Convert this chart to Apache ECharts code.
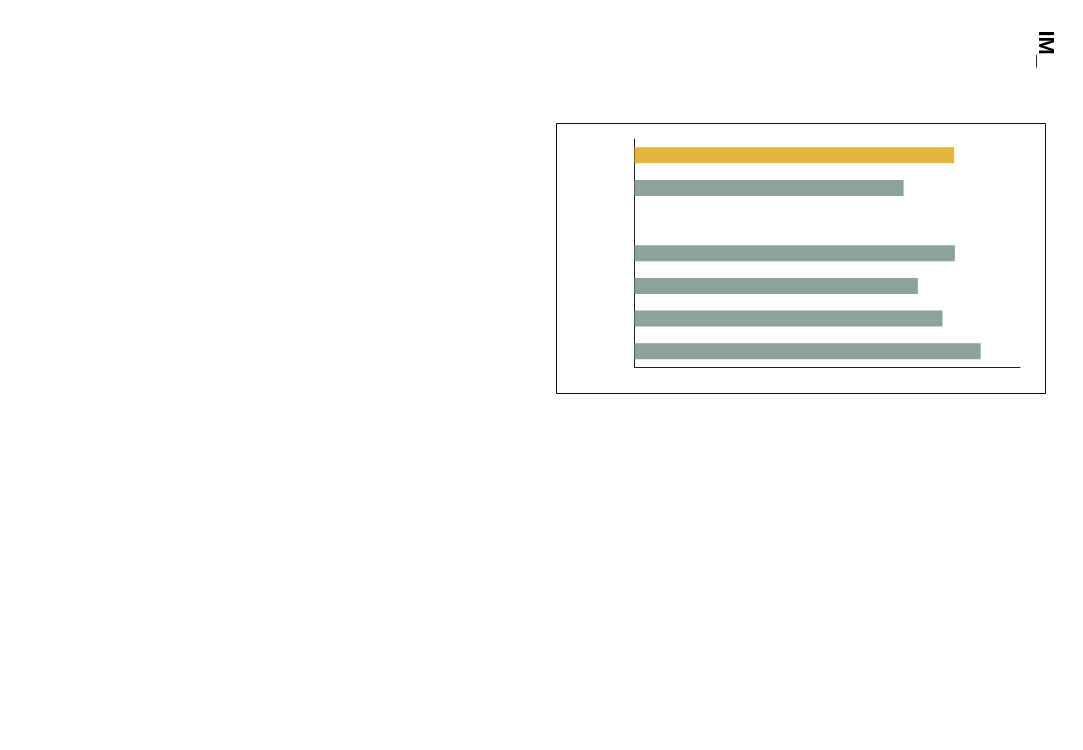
<!DOCTYPE html>
<html>
<head>
<meta charset="utf-8">
<script src="https://cdn.jsdelivr.net/npm/echarts@6/dist/echarts.min.js"></script>
<style>
html,body{margin:0;padding:0;background:#fff;}
#chart{width:1083px;height:750px;}
</style>
</head>
<body>
<div id="chart"></div>
<script>
var categories = ['A', 'B', 'C', 'D', 'E', 'F', 'G'];
var values = [82.9, 69.8, null, 83.1, 73.5, 79.9, 89.8];
var highlightIndex = [0];
var xMax = 100;

var chart = echarts.init(document.getElementById('chart'), null, {renderer: 'canvas'});
var data = values.map(function (v, i) {
  return {
    value: v,
    itemStyle: {color: highlightIndex.indexOf(i) >= 0 ? '#E3B53D' : '#8CA399'}
  };
});
chart.setOption({
  animation: false,
  backgroundColor: '#ffffff',
  grid: {left: 634.5, right: 63, top: 139, bottom: 382.5, containLabel: false},
  xAxis: {
    type: 'value', min: 0, max: xMax,
    axisLine: {show: true, lineStyle: {color: '#222', width: 1}},
    axisTick: {show: false}, axisLabel: {show: false}, splitLine: {show: false}
  },
  yAxis: {
    type: 'category', data: categories, inverse: true,
    axisLine: {show: true, lineStyle: {color: '#222', width: 1}},
    axisTick: {show: false}, axisLabel: {show: false}, splitLine: {show: false}
  },
  series: [{
    type: 'bar', data: data, barWidth: 16, silent: true
  }],
  graphic: [
    {
      type: 'rect', silent: true,
      shape: {x: 556.5, y: 123.5, width: 489, height: 270},
      style: {fill: 'none', stroke: '#111', lineWidth: 1}
    },
    {
      type: 'text', silent: true,
      x: 1045, y: 30.5, rotation: -Math.PI / 2,
      style: {
        text: 'IM_', fill: '#000',
        font: 'bold 22px "Liberation Sans", Arial, sans-serif',
        align: 'left', verticalAlign: 'middle'
      }
    }
  ]
});
</script>
</body>
</html>
